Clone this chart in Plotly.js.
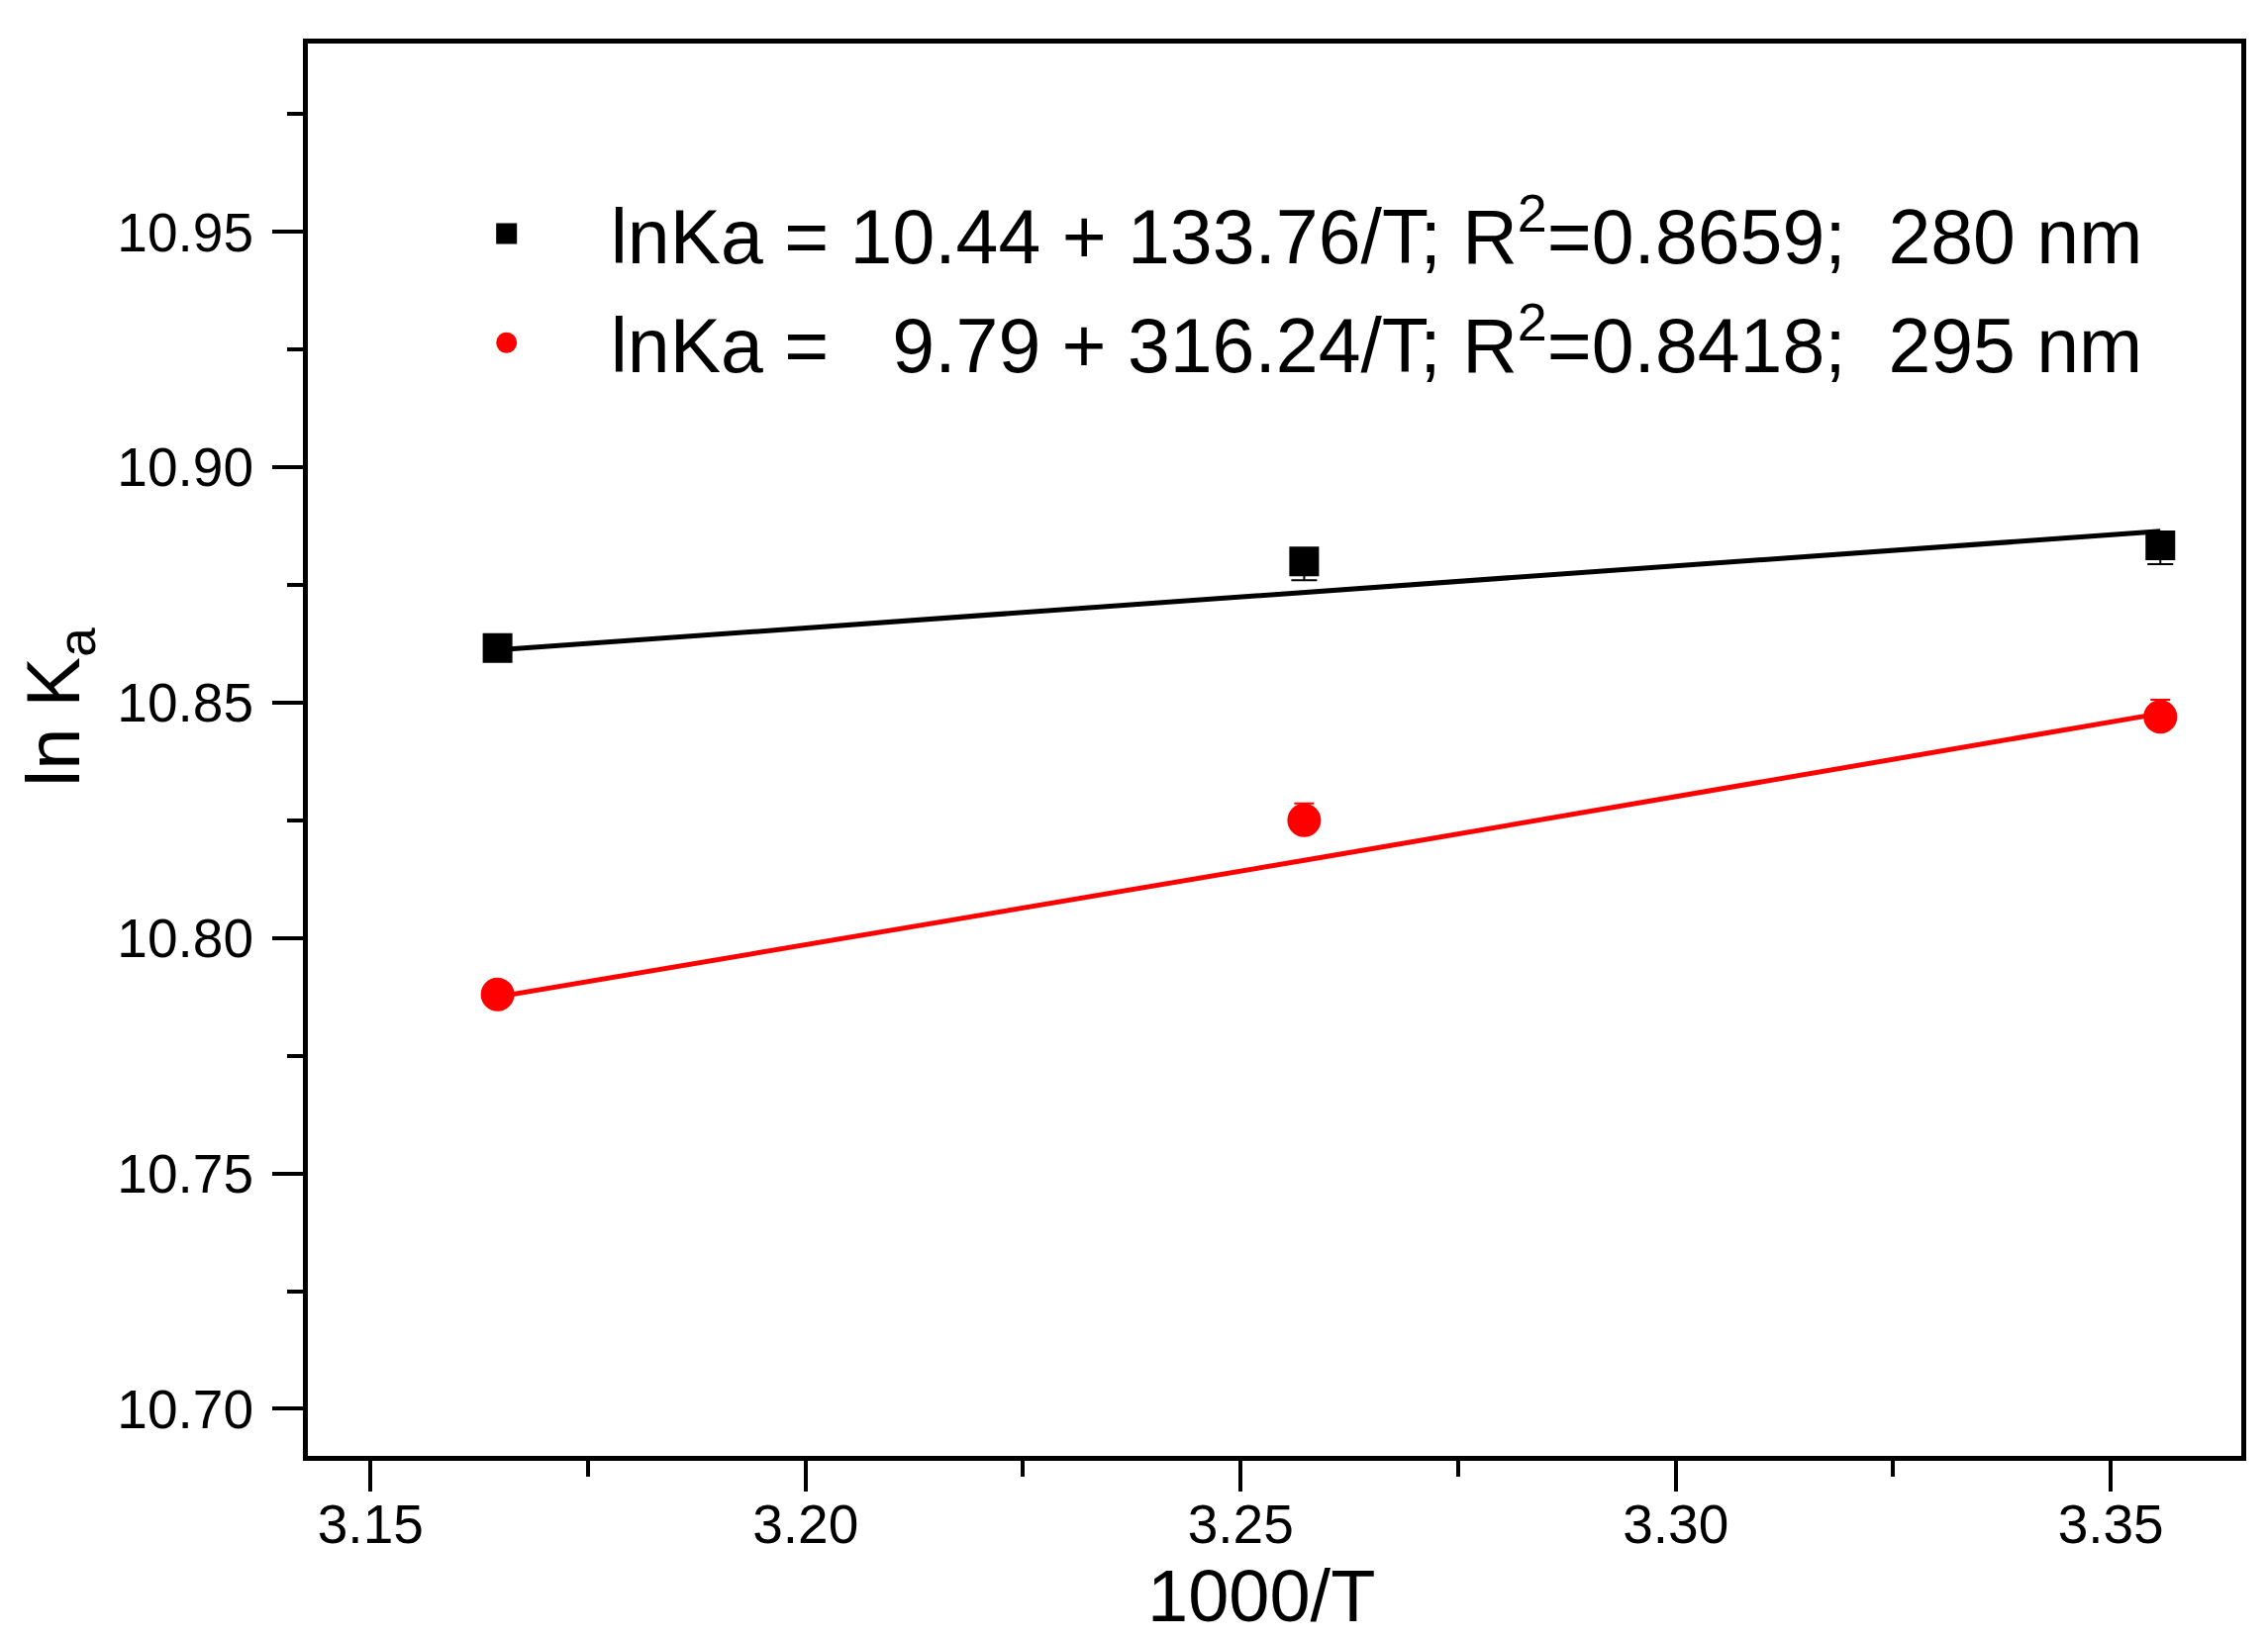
<!DOCTYPE html>
<html>
<head>
<meta charset="utf-8">
<script src="https://cdn.plot.ly/plotly-3.0.1.min.js"></script>
<style>
  html, body { margin: 0; padding: 0; background: #fff; }
  #chart { width: 2291px; height: 1656px; }
</style>
</head>
<body>
<div id="chart"></div>
<script>
// 1000/T for the three temperatures
const invT = [3.1646, 3.2573, 3.3557]

// ln Ka measured at 280 nm and 295 nm
const lnKa280 = [10.8616, 10.880, 10.8834]
const lnKa295 = [10.788, 10.825, 10.847]

// small error bars (only one side sticks out of the marker)
const err280 = [0.002, 0.004, 0.004]
const err295 = [0.002, 0.0036, 0.0036]

// linear fit values
const fit280 = [10.8612, 10.8735, 10.8864]
const fit295 = [10.7875, 10.8165, 10.8477]

const name280 = "lnKa = 10.44 + 133.76/T; R<sup>2</sup>=0.8659;\u00A0\u00A0280 nm"
const name295 = "lnKa =\u00A0\u00A0\u00A09.79 + 316.24/T; R<sup>2</sup>=0.8418;\u00A0\u00A0295 nm"

const xTicks = [3.15, 3.2, 3.25, 3.3, 3.35]
const xTickText = ["3.15", "3.20", "3.25", "3.30", "3.35"]
const yTicks = [10.7, 10.75, 10.8, 10.85, 10.9, 10.95]
const yTickText = ["10.70", "10.75", "10.80", "10.85", "10.90", "10.95"]

const font = "Liberation Sans, Arial, sans-serif"

const traces = [
  {
    x: invT,
    y: fit280,
    mode: "lines",
    line: { color: "#000000", width: 5 },
    showlegend: false,
    hoverinfo: "skip",
  },
  {
    x: invT,
    y: fit295,
    mode: "lines",
    line: { color: "#ff0000", width: 5 },
    showlegend: false,
    hoverinfo: "skip",
  },
  {
    x: invT,
    y: lnKa280,
    mode: "markers",
    name: name280,
    legendgroup: "a",
    marker: { symbol: "square", size: 25, color: "#000000", line: { color: "#000000", width: 5 } },
    error_y: {
      type: "data",
      symmetric: false,
      array: [0, 0, 0],
      arrayminus: err280,
      color: "#000000",
      thickness: 2,
      width: 13,
    },
  },
  {
    x: invT,
    y: lnKa295,
    mode: "markers",
    name: name295,
    legendgroup: "b",
    marker: { symbol: "circle", size: 29, color: "#ff0000", line: { color: "#ff0000", width: 5 } },
    error_y: {
      type: "data",
      symmetric: false,
      array: err295,
      arrayminus: [0, 0, 0],
      color: "#ff0000",
      thickness: 2,
      width: 10,
    },
  },
]

const layout = {
  width: 2291,
  height: 1656,
  margin: { l: 311, r: 27, t: 44, b: 185 },
  paper_bgcolor: "#ffffff",
  plot_bgcolor: "#ffffff",
  font: { family: font, color: "#000000", size: 55 },
  showlegend: true,
  legend: {
    x: 0.049,
    y: 0.905,
    xanchor: "left",
    yanchor: "top",
    bgcolor: "rgba(0,0,0,0)",
    font: { family: font, size: 77, color: "#000000" },
    itemwidth: 200,
    tracegroupgap: 7,
  },
  xaxis: {
    range: [3.1428, 3.365],
    tickvals: xTicks,
    ticktext: xTickText,
    ticks: "outside",
    ticklen: 31,
    tickwidth: 4,
    tickcolor: "#000000",
    ticklabelstandoff: -14,
    minor: { tickvals: [3.175, 3.225, 3.275, 3.325], ticks: "outside", ticklen: 16, tickwidth: 4, tickcolor: "#000000" },
    showline: true,
    linecolor: "#000000",
    linewidth: 5,
    mirror: true,
    showgrid: false,
    zeroline: false,
    tickfont: { family: font, size: 55 },
    automargin: false,
  },
  yaxis: {
    range: [10.690, 10.990],
    tickvals: yTicks,
    ticktext: yTickText,
    ticks: "outside",
    ticklen: 31,
    tickwidth: 4,
    tickcolor: "#000000",
    ticklabelstandoff: 8,
    minor: { tickvals: [10.725, 10.775, 10.825, 10.875, 10.925, 10.975], ticks: "outside", ticklen: 16, tickwidth: 4, tickcolor: "#000000" },
    showline: true,
    linecolor: "#000000",
    linewidth: 5,
    mirror: true,
    showgrid: false,
    zeroline: false,
    tickfont: { family: font, size: 55 },
    automargin: false,
  },
  // axis titles placed as in the original (slightly off the axis middles)
  annotations: [
    {
      text: "ln K<sub>a</sub>",
      xref: "paper",
      yref: "paper",
      x: -0.129,
      y: 0.53,
      xanchor: "center",
      yanchor: "middle",
      textangle: -90,
      showarrow: false,
      font: { family: font, size: 76, color: "#000000" },
    },
    {
      text: "1000/T",
      xref: "paper",
      yref: "paper",
      x: 0.493,
      y: -0.099,
      xanchor: "center",
      yanchor: "middle",
      showarrow: false,
      font: { family: font, size: 74, color: "#000000" },
    },
  ],
}

Plotly.newPlot("chart", traces, layout, { staticPlot: true })
</script>
</body>
</html>
